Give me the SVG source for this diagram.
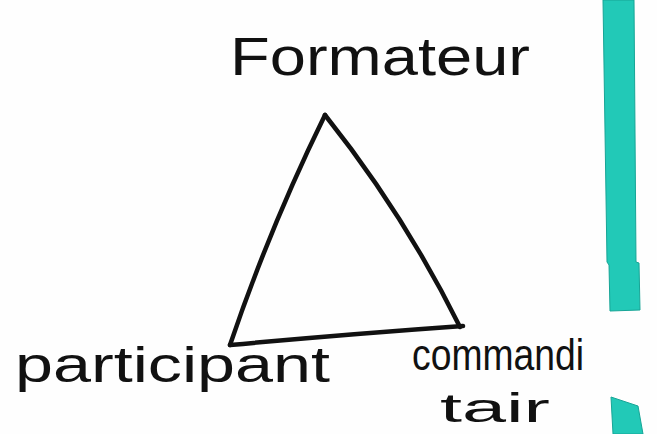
<svg xmlns="http://www.w3.org/2000/svg" width="657" height="434" viewBox="0 0 657 434">
<style>
.lbl{font-family:"Liberation Sans","DejaVu Sans",sans-serif;fill:#111;}
.edge{fill:none;stroke:#111;stroke-width:4.5;stroke-linecap:round;stroke-linejoin:round;}
.tape{fill:#22c9b7;stroke:#17a596;stroke-width:1;}
</style>
<rect width="657" height="434" fill="#fefefe"/>
<g id="tape">
<path class="tape" d="M603,0 L634,0 L636,262 L639,263 L640,310 L610,311 L609,265 L607,262 Z"/>
<path class="tape" d="M611,397 L638,406 L643,434 L613,434 Z"/>
</g>
<g id="connectors">
<path class="edge" d="M325,115 Q270,227 230,345"/>
<path class="edge" d="M325,115 Q404,214 460,327"/>
<path class="edge" d="M230,345 Q350,334 463,326"/>
</g>
<g id="formateur">
<text class="lbl" x="230" y="75" font-size="54" textLength="300" lengthAdjust="spacingAndGlyphs">Formateur</text>
</g>
<g id="participant">
<text class="lbl" x="15" y="382" font-size="50" textLength="315" lengthAdjust="spacingAndGlyphs">participant</text>
</g>
<g id="commanditaire">
<text class="lbl" x="412" y="370" font-size="44" textLength="172" lengthAdjust="spacingAndGlyphs">commandi</text>
<text class="lbl" x="440" y="422" font-size="40" textLength="110" lengthAdjust="spacingAndGlyphs">tair</text>
</g>
</svg>
